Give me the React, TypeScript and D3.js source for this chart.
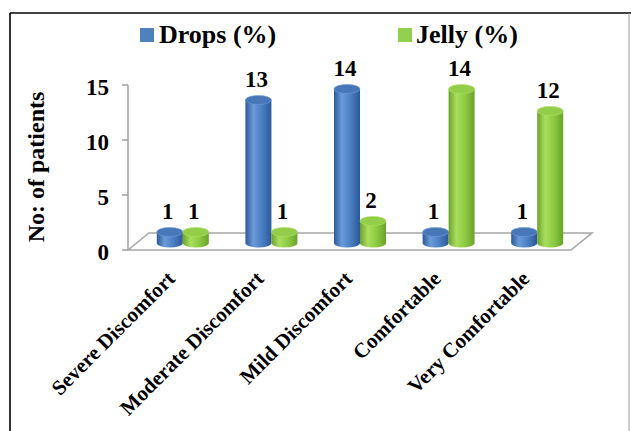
import React from "react";
import * as d3 from "d3";

// Patient comfort ratings for the two formulations
const categories = [
  "Severe Discomfort",
  "Moderate Discomfort",
  "Mild Discomfort",
  "Comfortable",
  "Very Comfortable",
];
const dropsValues = [1, 13, 14, 1, 1];
const jellyValues = [1, 1, 2, 14, 12];
const seriesNames = ["Drops (%)", "Jelly (%)"];
const yTicks = [0, 5, 10, 15];
const yTitle = "No: of patients";

const W = 631;
const H = 431;
const FONT = '"Liberation Serif", "Times New Roman", "DejaVu Serif", serif';
const txt: React.CSSProperties = { fontFamily: FONT, fontWeight: 700 };

// plot floor (front edge) and depth offset of the 3D floor
const floorLeft = 128;
const floorRight = 571;
const depthX = 21;
const depthY = -17;

const BLUE = { dark: "#2c5896", mid: "#4a7ec2", light: "#6b9ad8", top: "#4877b8" };
const GREEN = { dark: "#6aa22a", mid: "#8cc940", light: "#a9df5f", top: "#93cd4a" };

function Label(props: {
  x: number;
  y: number;
  size: number;
  anchor?: "start" | "middle" | "end";
  rotate?: number;
  children: React.ReactNode;
}) {
  const { x, y, size, anchor = "start", rotate = 0, children } = props;
  return (
    <text
      transform={`translate(${x},${y}) rotate(${rotate})`}
      textAnchor={anchor}
      fontSize={size}
      style={txt}
      fill="#000"
    >
      {children}
    </text>
  );
}

export default function App() {
  const y = d3.scaleLinear().domain([0, 15]).range([250, 85]);
  const x0 = d3
    .scaleBand<string>()
    .domain(categories)
    .range([floorLeft, floorRight])
    .paddingInner(0)
    .paddingOuter(0);
  const barW = 26;
  const ry = 4.5;

  // bars stand at mid-depth of the floor
  const midDX = depthX / 2;
  const midDY = -7;

  const cylinder = (
    key: string,
    left: number,
    v: number,
    pal: typeof BLUE,
    gradId: string
  ) => {
    const base = y(0) + midDY;
    const top = y(v) + midDY;
    const right = left + barW;
    const rx = barW / 2;
    const body = `M${left},${top} L${left},${base} A${rx},${ry} 0 0 0 ${right},${base} L${right},${top} Z`;
    return (
      <g key={key}>
        <path d={body} fill={`url(#${gradId})`} />
        <ellipse cx={left + rx} cy={top} rx={rx} ry={ry} fill={pal.top} stroke={pal.light} strokeWidth={0.6} />
      </g>
    );
  };

  const grad = (id: string, pal: typeof BLUE) => (
    <linearGradient id={id} x1="0" x2="1" y1="0" y2="0">
      <stop offset="0%" stopColor={pal.dark} />
      <stop offset="30%" stopColor={pal.light} />
      <stop offset="65%" stopColor={pal.mid} />
      <stop offset="100%" stopColor={pal.dark} />
    </linearGradient>
  );

  const floorPts = [
    [floorLeft, y(0)],
    [floorLeft + depthX, y(0) + depthY],
    [floorRight + depthX, y(0) + depthY],
    [floorRight, y(0)],
  ];
  const floorPath = d3.line()(floorPts as [number, number][]) + "Z";

  return (
    <svg width={W} height={H} style={{ position: "absolute", left: 0, top: 0, background: "#fff" }}>
      <defs>
        {grad("gBlue", BLUE)}
        {grad("gGreen", GREEN)}
      </defs>
      <rect x={0} y={0} width={W} height={H} fill="#fff" />
      {/* outer frame */}
      <line x1={10} y1={13} x2={W} y2={13} stroke="#000" strokeWidth={1.6} />
      <line x1={10} y1={13} x2={10} y2={H} stroke="#000" strokeWidth={1.6} />
      <line x1={629} y1={13} x2={629} y2={H} stroke="#9a9a9a" strokeWidth={1} />

      {/* legend */}
      <rect x={140} y={28} width={14} height={14} fill="#4f81bd" />
      <Label x={159} y={43} size={26}>{seriesNames[0]}</Label>
      <rect x={398} y={28} width={14} height={14} fill="#92d050" />
      <Label x={416} y={43} size={26}>{seriesNames[1]}</Label>

      {/* floor */}
      <path d={floorPath} fill="#fff" stroke="#a6a6a6" strokeWidth={1.6} />

      {/* y axis */}
      <line x1={floorLeft} y1={y(15)} x2={floorLeft} y2={y(0)} stroke="#a6a6a6" strokeWidth={1.6} />
      {yTicks.map((t) => (
        <g key={t}>
          <line x1={floorLeft - 6} x2={floorLeft} y1={y(t)} y2={y(t)} stroke="#a6a6a6" strokeWidth={1.6} />
          <Label x={109} y={y(t) + 9.5} size={23} anchor="end">{t}</Label>
        </g>
      ))}
      <Label x={44} y={167} size={24} anchor="middle" rotate={-90}>{yTitle}</Label>

      {/* bars */}
      {categories.map((c, i) => {
        const center = (x0(c) as number) + x0.bandwidth() / 2 + midDX;
        const lb = center - barW;
        const lg = center;
        return (
          <g key={c}>
            {cylinder(c + "d", lb, dropsValues[i], BLUE, "gBlue")}
            {cylinder(c + "j", lg, jellyValues[i], GREEN, "gGreen")}
            <Label x={lb + barW / 2 - 2} y={y(dropsValues[i]) + midDY - 13} size={23} anchor="middle">
              {dropsValues[i]}
            </Label>
            <Label x={lg + barW / 2 - 2} y={y(jellyValues[i]) + midDY - 13} size={23} anchor="middle">
              {jellyValues[i]}
            </Label>
          </g>
        );
      })}

      {/* category labels */}
      {categories.map((c) => (
        <Label
          key={c + "l"}
          x={(x0(c) as number) + x0.bandwidth() / 2 + 4}
          y={280}
          size={21}
          anchor="end"
          rotate={-45}
        >
          {c}
        </Label>
      ))}
    </svg>
  );
}
